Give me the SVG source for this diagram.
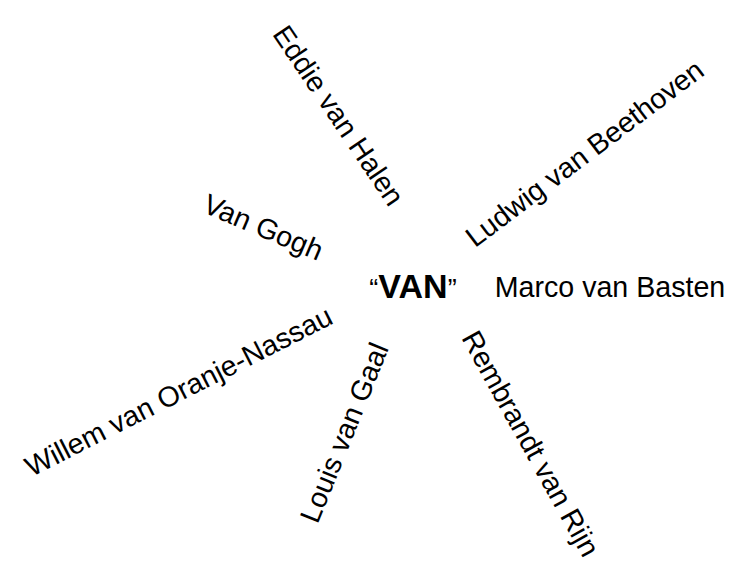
<svg xmlns="http://www.w3.org/2000/svg" width="736" height="572" viewBox="0 0 736 572">
<style>
.lbl{font-family:"Liberation Sans",Arial,sans-serif;font-size:28.6px;fill:#000;text-anchor:middle}
.ctr{font-family:"Liberation Sans",Arial,sans-serif;font-size:34px;font-weight:bold;fill:#000;text-anchor:middle}
.q{font-size:27px;font-weight:normal}
</style>
<rect width="736" height="572" fill="#fff"/>
<g id="connectors"/>
<g id="van"><text class="ctr" x="413" y="298"><tspan class="q">“</tspan>VAN<tspan class="q">”</tspan></text></g>
<g id="eddie"><text class="lbl" x="0" y="9" transform="translate(338,116) rotate(56)">Eddie van Halen</text></g>
<g id="ludwig"><text class="lbl" x="0" y="9" transform="translate(585,154) rotate(-37)">Ludwig van Beethoven</text></g>
<g id="gogh"><text class="lbl" x="0" y="9" transform="translate(263,228) rotate(23)">Van Gogh</text></g>
<g id="marco"><text class="lbl" x="610" y="297">Marco van Basten</text></g>
<g id="willem"><text class="lbl" x="0" y="9" transform="translate(179,392) rotate(-27)">Willem van Oranje-Nassau</text></g>
<g id="louis"><text class="lbl" x="0" y="9" transform="translate(345,433) rotate(-68)">Louis van Gaal</text></g>
<g id="rembrandt"><text class="lbl" x="0" y="9" transform="translate(530,444) rotate(61)">Rembrandt van Rijn</text></g>
</svg>
